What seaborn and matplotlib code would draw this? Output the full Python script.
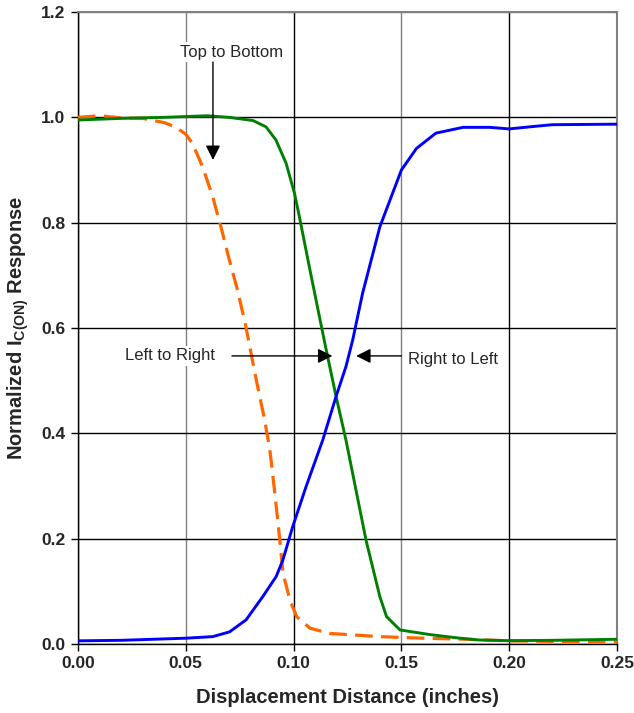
import matplotlib
matplotlib.use("Agg")
import matplotlib.pyplot as plt
import seaborn as sns

# Top to Bottom (orange dashed)
ttb_x = [0, 0.01, 0.02, 0.03, 0.04, 0.045, 0.05, 0.053, 0.0578, 0.0625, 0.0663, 0.0702,
         0.074, 0.0779, 0.0827, 0.0866, 0.089, 0.0913, 0.0936, 0.0951, 0.0983, 0.1014,
         0.1076, 0.117, 0.14, 0.16, 0.18, 0.20, 0.22, 0.25]
ttb_y = [1.000, 1.003, 0.999, 0.998, 0.990, 0.982, 0.968, 0.951, 0.906, 0.849, 0.792, 0.729,
         0.672, 0.602, 0.501, 0.425, 0.368, 0.286, 0.197, 0.134, 0.0835, 0.052,
         0.030, 0.020, 0.014, 0.011, 0.009, 0.006, 0.005, 0.004]

# Left to Right (green)
ltr_x = [0, 0.02, 0.04, 0.06, 0.07, 0.0811, 0.0872, 0.0918, 0.0965, 0.1004, 0.1027, 0.1073,
         0.112, 0.115, 0.1197, 0.1243, 0.1336, 0.14, 0.1431, 0.1494, 0.163, 0.175, 0.186,
         0.20, 0.22, 0.25]
ltr_y = [0.995, 0.998, 1.000, 1.003, 1.000, 0.994, 0.982, 0.957, 0.913, 0.856, 0.811, 0.716,
         0.621, 0.561, 0.470, 0.387, 0.197, 0.090, 0.052, 0.0266, 0.018, 0.012, 0.0076,
         0.0063, 0.007, 0.009]

# Right to Left (blue)
rtl_x = [0, 0.02, 0.05, 0.0625, 0.0703, 0.078, 0.0857, 0.0919, 0.095, 0.0996, 0.1058, 0.1135,
         0.1197, 0.1243, 0.1274, 0.132, 0.14, 0.15, 0.157, 0.166, 0.1786, 0.191, 0.20,
         0.2096, 0.22, 0.25]
rtl_y = [0.006, 0.007, 0.011, 0.014, 0.023, 0.046, 0.090, 0.128, 0.159, 0.223, 0.299, 0.387,
         0.470, 0.527, 0.577, 0.666, 0.792, 0.900, 0.941, 0.970, 0.981, 0.981, 0.978,
         0.982, 0.986, 0.987]

x_ticks = [0.00, 0.05, 0.10, 0.15, 0.20, 0.25]
y_ticks = [0.0, 0.2, 0.4, 0.6, 0.8, 1.0, 1.2]

sns.set_style("white")
plt.rcParams["font.family"] = ["Liberation Sans", "DejaVu Sans"]
plt.rcParams["mathtext.fontset"] = "custom"
plt.rcParams["mathtext.rm"] = "Liberation Sans:bold"
plt.rcParams["mathtext.bf"] = "Liberation Sans:bold"

fig = plt.figure(figsize=(6.34, 7.13), dpi=100)
ax = fig.add_axes([78 / 634, 69 / 713, 539 / 634, 632 / 713])

sns.lineplot(x=ttb_x, y=ttb_y, ax=ax, color="#FF6600", lw=2.3, sort=False,
             estimator=None, zorder=3).lines[-1].set_dashes([5.5, 2.6])
sns.lineplot(x=ltr_x, y=ltr_y, ax=ax, color="#008000", lw=2.1, sort=False,
             estimator=None, zorder=4)
sns.lineplot(x=rtl_x, y=rtl_y, ax=ax, color="#0000FF", lw=2.1, sort=False,
             estimator=None, zorder=5)

ax.set_xlim(0, 0.25)
ax.set_ylim(0, 1.2)
ax.set_xticks(x_ticks)
ax.set_yticks(y_ticks)
ax.set_xticklabels([f"{v:.2f}" for v in x_ticks], fontsize=12.5, fontweight="bold")
ax.set_yticklabels([f"{v:.1f}" for v in y_ticks], fontsize=12.5, fontweight="bold")
ax.tick_params(axis="both", direction="out", length=5, width=1, color="black", pad=4,
               bottom=True, left=True)

ax.grid(True, color="black", lw=1)
for i, gl in enumerate(ax.xaxis.get_gridlines()):
    gl.set_color("#808080" if i % 2 == 1 else "black")
ax.yaxis.get_gridlines()[-1].set_color("#808080")
ax.set_axisbelow(True)

for s in ["left", "bottom"]:
    ax.spines[s].set_color("black")
    ax.spines[s].set_linewidth(1)
for s in ["top", "right"]:
    ax.spines[s].set_color("#808080")
    ax.spines[s].set_linewidth(1.5)

ax.set_xlabel("Displacement Distance (inches)", fontsize=14.5, fontweight="bold", labelpad=12)
ax.set_ylabel(r"Normalized I$_{\mathrm{C(ON)}}$ Response", fontsize=14.5, fontweight="bold",
              labelpad=7)

box = dict(facecolor="white", edgecolor="none", pad=2)
ax.text(0.0714, 1.124, "Top to Bottom", fontsize=12, ha="center", va="center", bbox=box, zorder=6)
ax.text(0.0427, 0.547, "Left to Right", fontsize=12, ha="center", va="center", bbox=box, zorder=6)
ax.text(0.174, 0.541, "Right to Left", fontsize=12, ha="center", va="center", bbox=box, zorder=6)

arrow = dict(arrowstyle="-|>", color="black", lw=1, mutation_scale=22, shrinkA=0, shrinkB=0)
ax.annotate("", xy=(0.0626, 0.919), xytext=(0.0626, 1.105), arrowprops=arrow, zorder=7)
ax.annotate("", xy=(0.118, 0.547), xytext=(0.0714, 0.547), arrowprops=arrow, zorder=7)
ax.annotate("", xy=(0.129, 0.547), xytext=(0.150, 0.547), arrowprops=arrow, zorder=7)

fig.savefig("out.png", dpi=100)
